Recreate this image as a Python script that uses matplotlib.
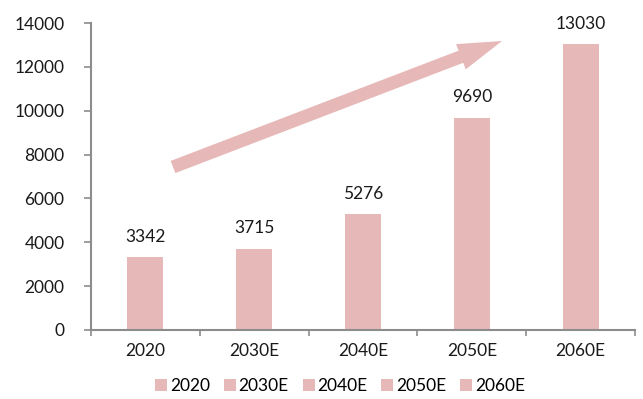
import matplotlib
matplotlib.use("Agg")
import matplotlib.pyplot as plt
from matplotlib import patches

# data
categories = ["2020", "2030E", "2040E", "2050E", "2060E"]
values = [3342, 3715, 5276, 9690, 13030]
yticks = [0, 2000, 4000, 6000, 8000, 10000, 12000, 14000]

BAR_COLOR = "#E6B8B7"
AXIS_COLOR = "#8C8C8C"
FS = 12.5

plt.rcParams["font.family"] = ["Lato", "DejaVu Sans"]

fig = plt.figure(figsize=(6.43, 3.99), dpi=100)
ax = fig.add_axes([91 / 643, 1 - 330 / 399, (635 - 91) / 643, (330 - 23) / 399])

x = range(len(categories))
bars = []
for i, (cat, v) in enumerate(zip(categories, values)):
    b = ax.bar(i, v, width=0.33, color=BAR_COLOR, label=cat)
    bars.append(b)
    ax.text(i, v + 550, str(v), ha="center", va="bottom", fontsize=FS, color="#1a1a1a")

ax.set_xlim(-0.5, len(categories) - 0.5)
ax.set_ylim(0, 14000)
ax.set_yticks(yticks)
ax.set_yticklabels([str(t) for t in yticks], fontsize=FS, color="#1a1a1a")
ax.set_xticks(list(x))
ax.set_xticklabels(categories, fontsize=FS, color="#1a1a1a")

# category boundary ticks on the x axis
ax.set_xticks([i - 0.5 for i in range(len(categories) + 1)], minor=True)
ax.tick_params(axis="x", which="major", length=0, pad=9)
ax.tick_params(axis="x", which="minor", length=4, width=1.2, color=AXIS_COLOR, direction="out")
ax.tick_params(axis="y", length=5, width=1.2, color=AXIS_COLOR, direction="out", pad=14)

for side in ["top", "right"]:
    ax.spines[side].set_visible(False)
for side in ["left", "bottom"]:
    ax.spines[side].set_color(AXIS_COLOR)
    ax.spines[side].set_linewidth(1.5)

# big trend arrow (display pixels)
H = 399
x0, y0 = 173, H - 167
x1, y1 = 502, H - 41
arrow = patches.FancyArrow(x0, y0, x1 - x0, y1 - y0, width=13, head_width=27,
                           head_length=44, length_includes_head=True,
                           color=BAR_COLOR, linewidth=0, transform=None)
fig.patches.append(arrow)

leg = fig.legend(handles=[b[0] for b in bars], labels=categories, loc="center",
                 bbox_to_anchor=(340 / 643, 1 - 386 / 399), ncol=5, frameon=False,
                 fontsize=FS, handlelength=0.7, handleheight=0.7,
                 handletextpad=0.15, columnspacing=0.8)

fig.savefig("out.png", dpi=100)
